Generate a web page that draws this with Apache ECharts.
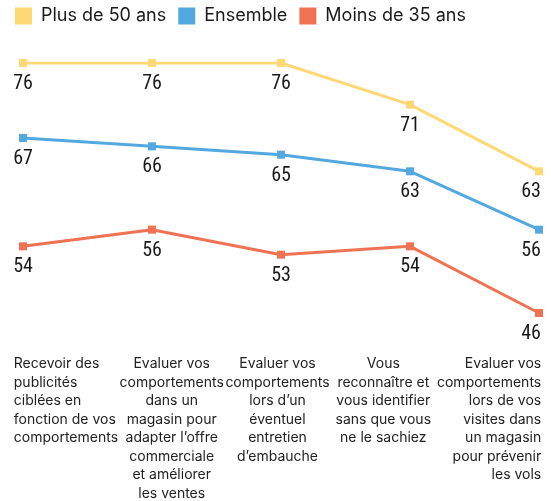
<!DOCTYPE html>
<html>
<head>
<meta charset="utf-8">
<script src="https://cdn.jsdelivr.net/npm/echarts@6/dist/echarts.min.js"></script>
<style>
  html, body { margin: 0; padding: 0; background: #fff; }
  #chart { width: 551px; height: 501px; }
</style>
</head>
<body>
<div id="chart"></div>
<script>
// categories, one per column
const categories = [
  'Recevoir des\npublicités\nciblées en\nfonction de vos\ncomportements',
  'Evaluer vos\ncomportements\ndans un\nmagasin pour\nadapter l’offre\ncommerciale\net améliorer\nles ventes',
  'Evaluer vos\ncomportements\nlors d’un\néventuel\nentretien\nd’embauche',
  'Vous\nreconnaître et\nvous identifier\nsans que vous\nne le sachiez',
  'Evaluer vos\ncomportements\nlors de vos\nvisites dans\nun magasin\npour prévenir\nles vols'
]

const seriesNames = ['Plus de 50 ans', 'Ensemble', 'Moins de 35 ans']
const plus50 = [76, 76, 76, 71, 63]
const ensemble = [67, 66, 65, 63, 56]
const moins35 = [54, 56, 53, 54, 46]

const colors = ['#fdd875', '#53a8df', '#ef7352']
const numFont = "'Roboto Condensed', 'Liberation Sans Narrow', 'DejaVu Sans Condensed', sans-serif"
const textFont = 'Inter, sans-serif'

// last point label is pulled left so it stays inside the frame
function withLabels(values) {
  return values.map((v, i) => i === values.length - 1
    ? { value: v, label: { offset: [-8, 0] } }
    : v)
}

function makeSeries(name, values, color) {
  return {
    name: name,
    type: 'line',
    data: withLabels(values),
    color: color,
    symbol: 'rect',
    symbolSize: 8,
    lineStyle: { width: 3, color: color },
    itemStyle: { color: color },
    label: {
      show: true,
      position: 'bottom',
      distance: 7,
      fontFamily: numFont,
      fontSize: 20,
      color: '#1a1a1a'
    },
    emphasis: { disabled: true },
    animation: false
  }
}

const chart = echarts.init(document.getElementById('chart'))

const labelStyle = { fontFamily: textFont, fontSize: 14, lineHeight: 18.5, color: '#222' }

chart.setOption({
  legend: {
    top: 2,
    left: 10,
    icon: 'rect',
    itemWidth: 17,
    itemHeight: 17,
    itemGap: 12,
    data: seriesNames,
    textStyle: {
      fontFamily: textFont,
      fontSize: 18,
      color: '#1a1a1a',
      padding: [0, 0, 0, 4]
    }
  },
  grid: [
    { left: 23, right: 12, top: 63, height: 250 },
    { left: 13, right: 9, top: 330, height: 10 }
  ],
  xAxis: [
    {
      type: 'category',
      gridIndex: 0,
      data: categories,
      boundaryGap: false,
      axisLine: { show: false },
      axisTick: { show: false },
      axisLabel: { show: false },
      splitLine: { show: false }
    },
    {
      type: 'category',
      gridIndex: 1,
      data: categories,
      boundaryGap: true,
      axisLine: { show: false },
      axisTick: { show: false },
      splitLine: { show: false },
      axisLabel: {
        margin: 15,
        interval: 0,
        formatter: function (value, index) {
          const tag = index === 0 ? 'l' : (index === categories.length - 1 ? 'r' : 'c')
          return value.split('\n').map(line => '{' + tag + '|' + line + '}').join('\n')
        },
        rich: {
          l: Object.assign({ align: 'left' }, labelStyle),
          c: Object.assign({ align: 'center' }, labelStyle),
          r: Object.assign({ align: 'right' }, labelStyle)
        }
      }
    }
  ],
  yAxis: [
    { type: 'value', gridIndex: 0, min: 46, max: 76, show: false },
    { type: 'value', gridIndex: 1, show: false }
  ],
  series: [
    makeSeries(seriesNames[0], plus50, colors[0]),
    makeSeries(seriesNames[1], ensemble, colors[1]),
    makeSeries(seriesNames[2], moins35, colors[2])
  ]
})
</script>
</body>
</html>
